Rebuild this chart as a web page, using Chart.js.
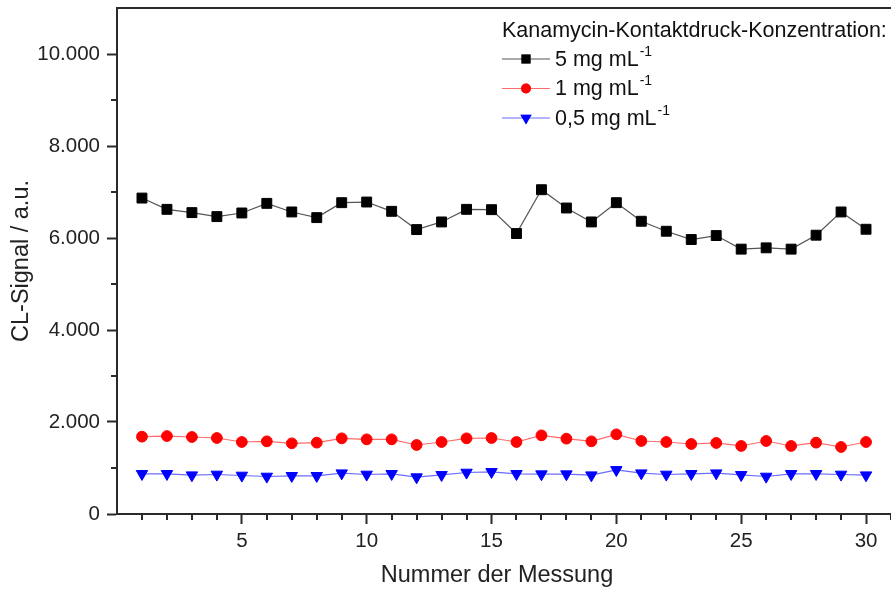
<!DOCTYPE html>
<html>
<head>
<meta charset="utf-8">
<script src="https://cdn.jsdelivr.net/npm/chart.js@4.4.1/dist/chart.umd.min.js"></script>
<style>
  html, body { margin: 0; padding: 0; background: #fff; overflow: hidden; }
  #wrap { width: 891px; height: 592px; overflow: hidden; }
</style>
</head>
<body>
<div id="wrap"><canvas id="clChart" width="899" height="592"></canvas></div>
<script>
// measurement numbers 1..30
const measurements = Array.from({ length: 30 }, (_, i) => i + 1);

// CL signal per measurement, one list per kanamycin concentration
const signal5mg = [
  6868, 6623, 6552, 6465, 6544, 6753, 6566, 6443, 6768, 6782,
  6580, 6183, 6349, 6623, 6616, 6097, 7050, 6652, 6349, 6768,
  6364, 6147, 5967, 6053, 5758, 5786, 5758, 6061, 6566, 6190
];
const signal1mg = [
  1681, 1695, 1674, 1652, 1565, 1580, 1537, 1551, 1645, 1623,
  1623, 1500, 1565, 1645, 1652, 1565, 1710, 1638, 1580, 1732,
  1587, 1565, 1522, 1544, 1479, 1587, 1479, 1551, 1457, 1565
];
const signal05mg = [
  873, 873, 844, 859, 837, 815, 830, 830, 887, 859,
  873, 801, 851, 902, 916, 873, 866, 866, 844, 959,
  887, 859, 873, 887, 851, 815, 873, 873, 859, 844
];

// axis ticks
const xMajorTicks = [5, 10, 15, 20, 25, 30];
const xMinorTicks = measurements.filter(v => v % 5 !== 0).concat([31]);
const yMajorTicks = [0, 2000, 4000, 6000, 8000, 10000];
const yMinorTicks = [1000, 3000, 5000, 7000, 9000];

const xTitle = "Nummer der Messung";
const legendTitle = "Kanamycin-Kontaktdruck-Konzentration:";
const seriesLabels = ["5 mg mL", "1 mg mL", "0,5 mg mL"];
const seriesUnitExp = "-1";

const FONT = "'Liberation Sans', Arial, sans-serif";
const AXIS_COLOR = "#2a2a2a";

const toPoints = (values) => values.map((v, i) => ({ x: measurements[i], y: v }));

// German thousands separator, e.g. 10.000
const formatDe = (v) => String(v).replace(/\B(?=(\d{3})+(?!\d))/g, ".");

// short outward ticks between the labelled ones
const minorTicksPlugin = {
  id: "minorTicks",
  afterDraw(chart) {
    const { ctx, scales, chartArea } = chart;
    ctx.save();
    ctx.strokeStyle = AXIS_COLOR;
    ctx.lineWidth = 2;
    ctx.beginPath();
    xMinorTicks.forEach((v) => {
      const px = Math.round(scales.x.getPixelForValue(v));
      ctx.moveTo(px, chartArea.bottom);
      ctx.lineTo(px, chartArea.bottom + 6);
    });
    yMinorTicks.forEach((v) => {
      const py = Math.round(scales.y.getPixelForValue(v));
      ctx.moveTo(chartArea.left, py);
      ctx.lineTo(chartArea.left - 6, py);
    });
    ctx.stroke();
    ctx.restore();
  },
};

// x axis title, centred on the visible part of the plot
const xTitlePlugin = {
  id: "xTitle",
  afterDraw(chart) {
    const { ctx } = chart;
    ctx.save();
    ctx.fillStyle = "#222";
    ctx.font = "23.5px " + FONT;
    ctx.textAlign = "center";
    ctx.textBaseline = "middle";
    ctx.fillText(xTitle, 497, 576);
    ctx.restore();
  },
};

// legend with a superscript unit exponent
const unitLegendPlugin = {
  id: "unitLegend",
  afterDraw(chart) {
    const { ctx } = chart;
    const left = 502;
    ctx.save();
    ctx.fillStyle = "#111";
    ctx.textBaseline = "middle";
    ctx.font = "21.5px " + FONT;
    ctx.fillText(legendTitle, left, 31);

    chart.data.datasets.forEach((ds, i) => {
      const y = 59 + i * 29.5;
      ctx.strokeStyle = ds.borderColor;
      ctx.lineWidth = ds.borderWidth;
      ctx.beginPath();
      ctx.moveTo(left, y);
      ctx.lineTo(left + 48, y);
      ctx.stroke();
      Chart.helpers.drawPoint(ctx, {
        pointStyle: ds.pointStyle,
        rotation: ds.pointRotation || 0,
        radius: ds.pointRadius * 0.8,
        borderWidth: 1,
      }, left + 24, y);
      ctx.fillStyle = ds.pointBackgroundColor;
      ctx.strokeStyle = ds.pointBorderColor;
      ctx.fill();
      ctx.stroke();

      ctx.fillStyle = "#111";
      ctx.font = "21.5px " + FONT;
      ctx.fillText(seriesLabels[i], left + 53, y + 1);
      const w = ctx.measureText(seriesLabels[i]).width;
      ctx.font = "14px " + FONT;
      ctx.fillText(seriesUnitExp, left + 53 + w + 1, y - 7);
    });
    ctx.restore();
  },
};

const ctx = document.getElementById("clChart").getContext("2d");

new Chart(ctx, {
  type: "line",
  data: {
    datasets: [
      {
        label: seriesLabels[0],
        data: toPoints(signal5mg),
        borderColor: "#555555",
        borderWidth: 1.2,
        pointStyle: "rect",
        pointRadius: 7,
        pointBackgroundColor: "#000000",
        pointBorderColor: "#000000",
        pointBorderWidth: 1,
      },
      {
        label: seriesLabels[1],
        data: toPoints(signal1mg),
        borderColor: "#ff6b6b",
        borderWidth: 1.2,
        pointStyle: "circle",
        pointRadius: 5.4,
        pointBackgroundColor: "#ff0000",
        pointBorderColor: "#ff0000",
        pointBorderWidth: 1,
      },
      {
        label: seriesLabels[2],
        data: toPoints(signal05mg),
        borderColor: "#6b6bff",
        borderWidth: 1.2,
        pointStyle: "triangle",
        pointRotation: 180,
        pointRadius: 6.6,
        pointBackgroundColor: "#0000ff",
        pointBorderColor: "#0000ff",
        pointBorderWidth: 1,
      },
    ],
  },
  options: {
    responsive: false,
    animation: false,
    layout: { padding: { top: 7, right: 0, bottom: 0, left: 0 } },
    plugins: {
      legend: { display: false },
      tooltip: { enabled: false },
    },
    scales: {
      x: {
        type: "linear",
        position: "bottom",
        min: 0,
        max: 31,
        afterBuildTicks: (scale) => {
          scale.ticks = xMajorTicks.map((v) => ({ value: v }));
        },
        afterFit: (scale) => {
          scale.height = 78;
          scale.paddingLeft = 0;
          scale.paddingRight = 0;
        },
        ticks: {
          autoSkip: false,
          maxRotation: 0,
          padding: 5,
          color: "#222",
          font: { family: FONT, size: 20.5 },
        },
        grid: {
          drawOnChartArea: false,
          tickLength: 10,
          tickWidth: 2,
          tickColor: AXIS_COLOR,
        },
        border: { color: AXIS_COLOR, width: 2 },
        title: { display: false },
      },
      xTop: {
        type: "linear",
        position: "top",
        display: true,
        min: 0,
        max: 31,
        afterFit: (scale) => { scale.height = 0; },
        ticks: { display: false },
        grid: { display: false },
        border: { display: true, color: AXIS_COLOR, width: 2 },
      },
      y: {
        type: "linear",
        min: 0,
        max: 11000,
        afterBuildTicks: (scale) => {
          scale.ticks = yMajorTicks.map((v) => ({ value: v }));
        },
        afterFit: (scale) => {
          scale.width = 117;
          scale.paddingTop = 0;
          scale.paddingBottom = 0;
        },
        ticks: {
          padding: 7,
          color: "#222",
          font: { family: FONT, size: 20.5 },
          callback: (v) => formatDe(v),
        },
        grid: {
          drawOnChartArea: false,
          tickLength: 10,
          tickWidth: 2,
          tickColor: AXIS_COLOR,
        },
        border: { color: AXIS_COLOR, width: 2 },
        title: {
          display: true,
          text: "CL-Signal / a.u.",
          color: "#222",
          font: { family: FONT, size: 23.5 },
          padding: { top: 7, bottom: 0 },
        },
      },
    },
  },
  plugins: [minorTicksPlugin, xTitlePlugin, unitLegendPlugin],
});
</script>
</body>
</html>
